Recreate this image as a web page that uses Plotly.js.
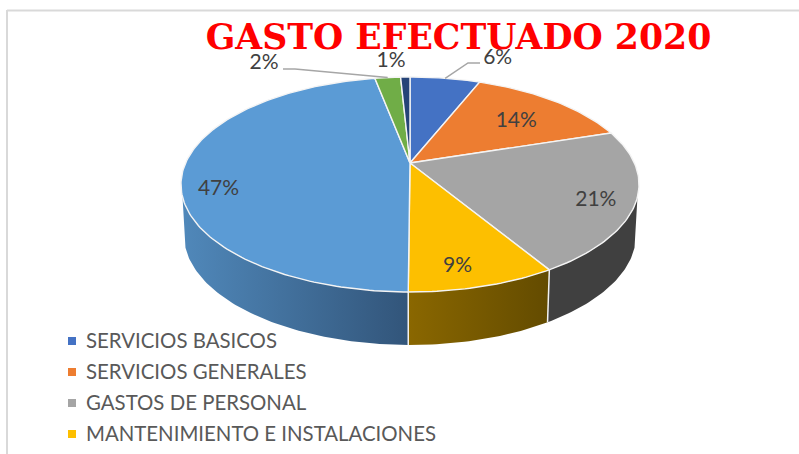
<!DOCTYPE html>
<html>
<head>
<meta charset="utf-8">
<script src="https://cdn.plot.ly/plotly-3.0.1.min.js"></script>
<style>html,body{margin:0;padding:0;background:#fff;overflow:hidden}#chart{width:799px;height:454px}</style>
</head>
<body>
<div id="chart"></div>
<script>
// ---- data ----
const categories = ["SERVICIOS BASICOS", "SERVICIOS GENERALES", "GASTOS DE PERSONAL",
  "MANTENIMIENTO E INSTALACIONES", "OTROS GASTOS", "INVERSIONES", "OTROS"];
const shares = [6.0, 14.0, 21.4, 8.7, 46.9, 2.2, 0.8];
const percentLabels = ["6%", "14%", "21%", "9%", "47%", "2%", "1%"];
const topColors = ["#4472C4", "#ED7D31", "#A5A5A5", "#FDBF00", "#5B9BD5", "#70AD47", "#264478"];
const rimStart = [null, null, "#404040", "#8A6700", "#5088BA", null, null];
const rimEnd = [null, null, "#404040", "#634B00", "#32557A", null, null];
const legendCount = 4;
// label placement, relative to each slice (radius factor, degrees of shift from mid-angle)
const labelRadius = [1.385, 0.69, 0.84, 0.845, 0.846, 1.47, 1.254];
const labelShift = [10, 1.7, 2.3, 3.2, -10.6, -26.6, -3.4];
const labelDrop = 2;

// ---- projection of the tilted disc into the plot coordinates ----
const cx = 410, cy = 163, A = 224.4, B = 103.2, K = 0.2;
const depth = 50, shrinkX = 0.987, growY = 1.023;
const wallFrom = 108, wallTo = 252; // visible part of the side wall, in degrees
function project(deg, r, level) {
  const a = deg * Math.PI / 180;
  const X = r * Math.sin(a), Y = r * Math.cos(a), w = 1 + K * Y;
  return [cx + (level ? shrinkX : 1) * A * X / w,
          cy + (level ? depth : 0) - (level ? growY : 1) * B * Y / w];
}
function arc(a0, a1, level) {
  const n = Math.max(2, Math.ceil(Math.abs(a1 - a0)));
  const pts = [];
  for (let i = 0; i <= n; i++) pts.push(project(a0 + (a1 - a0) * i / n, 1, level));
  return pts;
}
const total = shares.reduce((p, v) => p + v, 0);
const angles = [];
let run = 0;
shares.forEach(v => { const a0 = run / total * 360; run += v; angles.push([a0, run / total * 360]); });

const traces = [];
const base = {type: "scatter", hoverinfo: "skip", showlegend: false};

// side walls
angles.forEach((ang, i) => {
  if (!rimStart[i]) return;
  const a0 = Math.max(ang[0], wallFrom), a1 = Math.min(ang[1], wallTo);
  const pts = arc(a0, a1, 0).concat(arc(a1, a0, 1));
  pts.push(pts[0]);
  traces.push(Object.assign({}, base, {
    name: categories[i] + " (lateral)",
    mode: "lines", x: pts.map(p => p[0]), y: pts.map(p => p[1]),
    line: {width: 0}, fill: "toself", fillcolor: rimEnd[i],
    fillgradient: {type: "horizontal", colorscale: [[0, rimStart[i]], [1, rimEnd[i]]]}
  }));
});
// white separators on the visible wall
const sepX = [], sepY = [];
angles.forEach(ang => {
  const d = ang[0];
  if (d > wallFrom && d < wallTo) {
    const t = project(d, 1, 0), b = project(d, 1, 1);
    sepX.push(t[0], b[0], null); sepY.push(t[1], b[1], null);
  }
});
traces.push(Object.assign({}, base, {name: "separadores", mode: "lines", x: sepX, y: sepY,
  line: {color: "#F2F2F2", width: 1.5}}));

// top faces
angles.forEach((ang, i) => {
  const pts = [[cx, cy]].concat(arc(ang[0], ang[1], 0));
  pts.push([cx, cy]);
  traces.push(Object.assign({}, base, {
    name: categories[i], mode: "lines",
    x: pts.map(p => p[0]), y: pts.map(p => p[1]),
    fill: "toself", fillcolor: topColors[i],
    line: {color: "#F4F4F4", width: 1.4}
  }));
});

// leader lines for the outside labels
const leaders = [
  {i: 0, knee: [[468, 63], [480, 63]]},
  {i: 5, knee: [[295, 69], [283, 69]]}
];
leaders.forEach(l => {
  const mid = (angles[l.i][0] + angles[l.i][1]) / 2;
  const s = project(mid, 1, 0);
  const pts = [s].concat(l.knee);
  traces.push(Object.assign({}, base, {name: "guia", mode: "lines",
    x: pts.map(p => p[0]), y: pts.map(p => p[1]),
    line: {color: "#A6A6A6", width: 1.5}}));
});

// percent labels
const lab = angles.map((ang, i) => project((ang[0] + ang[1]) / 2 + labelShift[i], labelRadius[i], 0));
traces.push(Object.assign({}, base, {
  name: "porcentajes", mode: "text",
  x: lab.map(p => p[0]), y: lab.map(p => p[1] + labelDrop), text: percentLabels,
  textposition: "middle center", cliponaxis: false,
  textfont: {family: "Lato, 'Open Sans', sans-serif", size: 21, color: "#404040"}
}));

// legend column
const legendY = [341, 372, 403, 434];
traces.push(Object.assign({}, base, {
  name: "leyenda", mode: "markers",
  x: legendY.map(() => 72), y: legendY,
  cliponaxis: false,
  marker: {symbol: "square", size: 8, color: topColors.slice(0, legendCount)}
}));
traces.push(Object.assign({}, base, {
  name: "leyenda texto", mode: "text",
  x: legendY.map(() => 86), y: legendY.map(v => v + labelDrop),
  text: categories.slice(0, legendCount),
  textposition: "middle right", cliponaxis: false,
  textfont: {family: "Lato, 'Open Sans', sans-serif", size: 20.4, color: "#595959"}
}));

const layout = {
  width: 799, height: 454,
  margin: {l: 0, r: 0, t: 0, b: 0},
  paper_bgcolor: "#FFFFFF", plot_bgcolor: "#FFFFFF",
  showlegend: false,
  xaxis: {range: [0, 799], visible: false, fixedrange: true},
  yaxis: {range: [454, 0], visible: false, fixedrange: true},
  title: {
    text: "<b>GASTO EFECTUADO 2020</b>",
    x: 458.5 / 799, xanchor: "center", xref: "paper",
    y: 1 - 37 / 454, yanchor: "middle", yref: "paper",
    font: {family: "'DejaVu Serif', serif", size: 34.7, color: "#FF0000"}
  },
  shapes: [
    {type: "line", xref: "x", yref: "y", x0: 7, x1: 799, y0: 10.5, y1: 10.5, line: {color: "#D9D9D9", width: 2}, layer: "below"},
    {type: "line", xref: "x", yref: "y", x0: 7, x1: 7, y0: 10, y1: 454, line: {color: "#D9D9D9", width: 2}, layer: "below"}
  ]
};
Plotly.newPlot("chart", traces, layout, {displayModeBar: false, staticPlot: true});
</script>
</body>
</html>
